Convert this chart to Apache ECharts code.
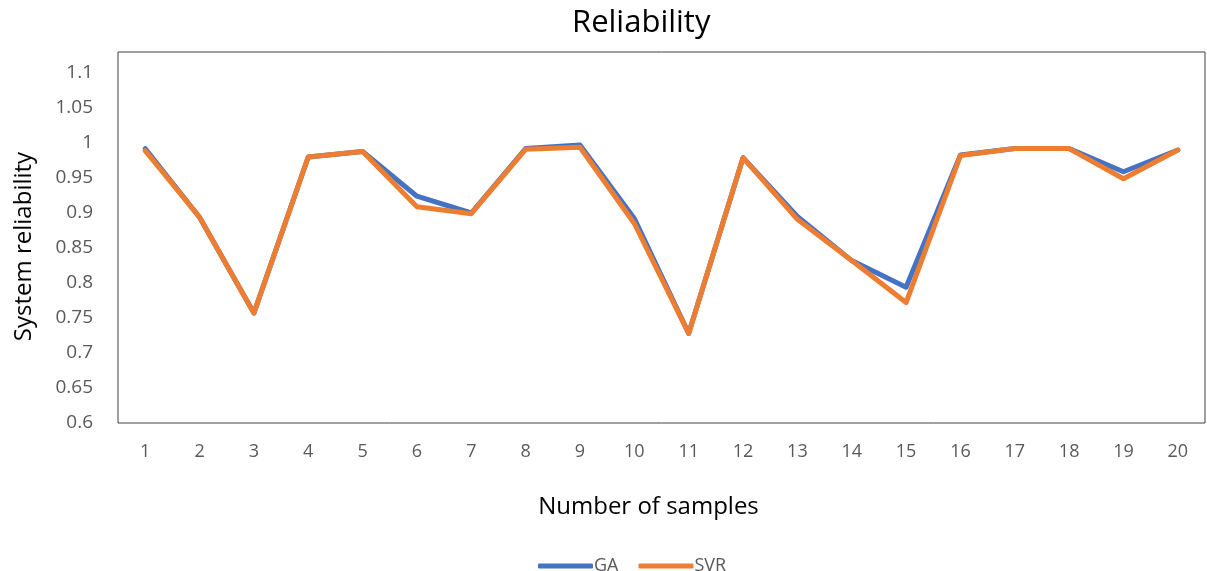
<!DOCTYPE html>
<html>
<head>
<meta charset="utf-8">
<script src="https://cdn.jsdelivr.net/npm/echarts@6/dist/echarts.min.js"></script>
<style>
  html, body { margin: 0; padding: 0; background: #fff; }
  #chart { width: 1207px; height: 571px; }
</style>
</head>
<body>
<div id="chart"></div>
<script>
// sample numbers on the x axis
const samples = ["1", "2", "3", "4", "5", "6", "7", "8", "9", "10",
  "11", "12", "13", "14", "15", "16", "17", "18", "19", "20"];
// reliability values
const gaValues = [0.992, 0.894, 0.757, 0.980, 0.988, 0.924, 0.900, 0.992, 0.997, 0.892,
  0.728, 0.979, 0.895, 0.832, 0.794, 0.983, 0.992, 0.992, 0.959, 0.990];
const svrValues = [0.989, 0.894, 0.757, 0.980, 0.988, 0.909, 0.899, 0.991, 0.994, 0.885,
  0.728, 0.979, 0.891, 0.832, 0.772, 0.982, 0.992, 0.992, 0.949, 0.990];

const textColor = "#595959";
const font = "'Open Sans', sans-serif";

const myChart = echarts.init(document.getElementById("chart"));
const option = {
  animation: false,
  title: {
    text: "Reliability",
    left: 567,
    top: 3,
    textStyle: { fontFamily: font, fontSize: 31, fontWeight: "normal", color: "#000" }
  },
  legend: {
    data: ["GA", "SVR"],
    left: 533,
    top: 552,
    icon: "roundRect",
    itemWidth: 55,
    itemHeight: 5,
    itemGap: 20,
    textStyle: { fontFamily: font, fontSize: 18, color: textColor, padding: [0, 0, 0, -4] }
  },
  grid: {
    left: 118,
    right: 2,
    top: 52,
    bottom: 148,
    show: true,
    borderColor: "#404040",
    borderWidth: 1
  },
  xAxis: {
    type: "category",
    data: samples,
    boundaryGap: true,
    name: "Number of samples",
    nameLocation: "middle",
    nameGap: 72,
    nameTextStyle: { fontFamily: font, fontSize: 24, color: "#000", padding: [0, 26, 0, 0] },
    axisLine: { show: false },
    axisTick: { show: false },
    axisLabel: { fontFamily: font, fontSize: 18, color: textColor, margin: 20 }
  },
  yAxis: {
    type: "value",
    min: 0.6,
    max: 1.13,
    interval: 0.05,
    name: "System reliability",
    nameLocation: "middle",
    nameGap: 82,
    nameTextStyle: { fontFamily: font, fontSize: 24, color: "#000", padding: [0, 18, 0, 0] },
    axisLine: { show: false },
    axisTick: { show: false },
    splitLine: { show: false },
    axisLabel: {
      fontFamily: font,
      fontSize: 19,
      color: textColor,
      margin: 25,
      showMaxLabel: false,
      formatter: function (v) { return String(+v.toFixed(2)); }
    }
  },
  series: [
    {
      name: "GA",
      type: "line",
      data: gaValues,
      showSymbol: false,
      symbol: "none",
      lineStyle: { color: "#4472C4", width: 5, cap: "round", join: "round" },
      itemStyle: { color: "#4472C4" }
    },
    {
      name: "SVR",
      type: "line",
      data: svrValues,
      showSymbol: false,
      symbol: "none",
      lineStyle: { color: "#ED7D31", width: 5, cap: "round", join: "round" },
      itemStyle: { color: "#ED7D31" }
    }
  ]
};
myChart.setOption(option);
</script>
</body>
</html>
